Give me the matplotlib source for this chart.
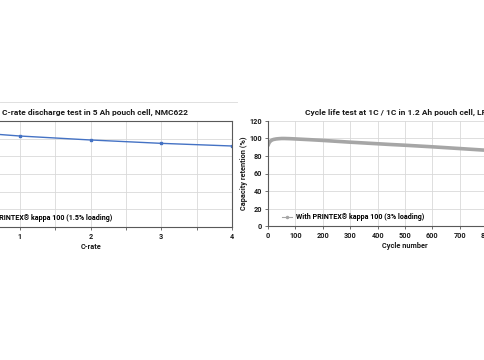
import matplotlib
matplotlib.use('Agg')
import matplotlib.pyplot as plt
from matplotlib.lines import Line2D
from matplotlib.ticker import MultipleLocator

plt.rcParams['font.family'] = ['Roboto', 'DejaVu Sans']
plt.rcParams['font.weight'] = 'bold'

# C-rate test, 5 Ah pouch cell
c_rate = [0.2, 0.5, 1, 2, 3, 4]
c_capacity = [108, 106, 103, 98.5, 94.7, 91.7]
c_label = 'With PRINTEX® kappa 100 (1.5% loading)'

# cycle life, 1.2 Ah pouch cell
cycles = [0, 3, 6, 10, 15, 20, 30, 40, 50, 60, 80, 100, 150, 200, 250, 300, 350,
          400, 450, 500, 550, 600, 650, 700, 750, 800, 850]
retention = [92, 94.5, 96, 97.3, 98.3, 98.9, 99.5, 99.8, 100, 100, 99.8, 99.5, 98.7,
             97.8, 96.8, 95.8, 94.9, 94, 93.1, 92.3, 91.4, 90.5, 89.5, 88.5, 87.5, 86.5, 85.5]
cyc_label = 'With PRINTEX® kappa 100 (3% loading)'

W, H = 485, 360
fig = plt.figure(figsize=(W / 100, H / 100), dpi=100)

def px(l, t, r, b):
    return [l / W, 1 - b / H, (r - l) / W, (b - t) / H]

dark = '#595959'
grid = '#d9d9d9'
txt = '#1a1a1a'
title_fs = 6.05
leg_fs = 5.1
lab_fs = 5.3
tick_fs = 5.2

# left chart
ax1 = fig.add_axes(px(-50.7, 121, 232, 227))
ax1.plot(c_rate, c_capacity, color='#4472C4', lw=1.0, marker='s', ms=2, label=c_label)
ax1.set_xlim(0, 4)
ax1.set_ylim(0, 120)
ax1.xaxis.set_major_locator(MultipleLocator(1))
ax1.xaxis.set_minor_locator(MultipleLocator(0.5))
ax1.yaxis.set_major_locator(MultipleLocator(20))
ax1.grid(True, which='both', color=grid, lw=0.6)
ax1.set_axisbelow(True)
for s in ax1.spines.values():
    s.set_color(dark)
    s.set_linewidth(0.8)
ax1.tick_params(which='both', direction='out', length=2.5, color=dark, width=0.6,
                labelsize=tick_fs, labelcolor=txt, pad=1.8)
t1 = ax1.set_title('C-rate discharge test in 5 Ah pouch cell, NMC622', fontsize=title_fs,
                   fontweight='bold', color=txt, pad=4.5)
t1.set_x(0.515)
ax1.set_xlabel('C-rate', fontsize=lab_fs, fontweight='bold', color=txt, labelpad=1.5)
ax1.set_ylabel('Capacity (%)', fontsize=lab_fs, fontweight='bold', color=txt)
ax1.legend(loc='lower left', bbox_to_anchor=(0.05, 0.045), frameon=False,
           fontsize=leg_fs, handlelength=1.5, borderpad=0, borderaxespad=0,
           handletextpad=0.5)

# right chart
ax2 = fig.add_axes(px(268, 121, 542, 226))
ax2.plot(cycles, retention, color='#a6a6a6', lw=2.6, solid_capstyle='round')
ax2.set_xlim(0, 1000)
ax2.set_ylim(0, 120)
ax2.xaxis.set_major_locator(MultipleLocator(100))
ax2.yaxis.set_major_locator(MultipleLocator(20))
ax2.grid(True, color=grid, lw=0.6)
ax2.set_axisbelow(True)
ax2.spines['top'].set_visible(False)
ax2.spines['right'].set_visible(False)
for s in ['left', 'bottom']:
    ax2.spines[s].set_color(dark)
    ax2.spines[s].set_linewidth(0.8)
ax2.tick_params(direction='out', length=2.5, color=dark, width=0.6,
                labelsize=tick_fs, labelcolor=txt, pad=1.8)
t2 = ax2.set_title('Cycle life test at 1C / 1C in 1.2 Ah pouch cell, LFP', fontsize=title_fs,
                   fontweight='bold', color=txt, pad=4.5)
t2.set_x(0.475)
ax2.set_xlabel('Cycle number', fontsize=lab_fs, fontweight='bold', color=txt, labelpad=1.5)
ax2.set_ylabel('Capacity retention (%)', fontsize=lab_fs, fontweight='bold', color=txt,
               labelpad=1)
h2 = Line2D([], [], color='#a6a6a6', lw=0.8, marker='o', ms=1.5)
ax2.legend([h2], [cyc_label], loc='lower left', bbox_to_anchor=(0.05, 0.045),
           frameon=False, fontsize=leg_fs, handlelength=1.5, borderpad=0,
           borderaxespad=0, handletextpad=0.5)

# chart area border of the left chart
fig.add_artist(Line2D([0, 237 / W], [1 - 101.7 / H] * 2, color='#e0e0e0', lw=0.7,
                      transform=fig.transFigure))

fig.savefig('out.png', dpi=100)
